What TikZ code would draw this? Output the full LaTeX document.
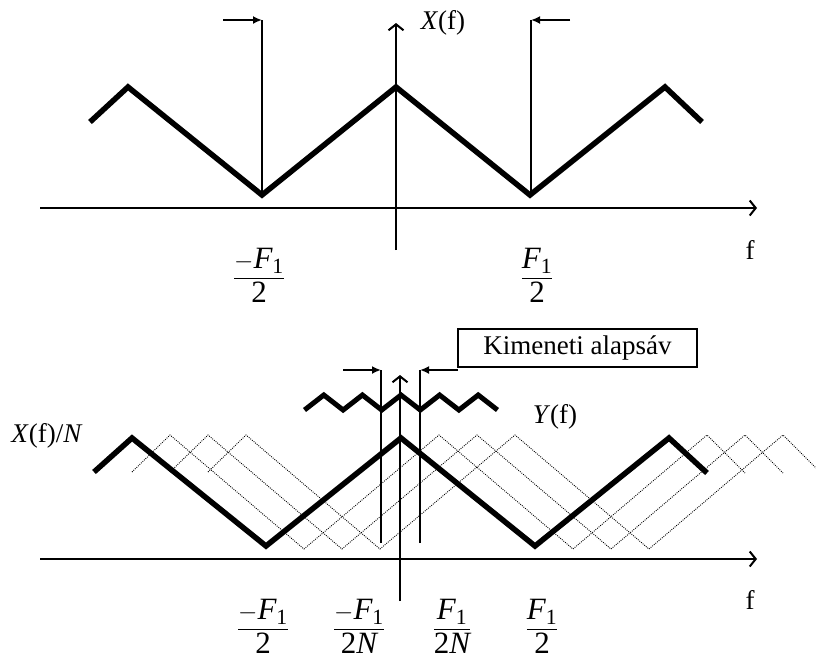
\documentclass[tikz,border=0pt]{standalone}
\usepackage{amsmath}
\usepackage{fontspec}
\setmainfont{Liberation Serif}
\usetikzlibrary{arrows.meta}

\newcommand{\Fone}{\textit{F}_{\textrm{1}}}

\begin{document}
\begin{tikzpicture}[x=1pt, y=-1pt]
    % Define styles
    \tikzstyle{axis} = [line width=2pt, -{Straight Barb[length=6pt, width=15pt]}]
    \tikzstyle{spectrum} = [line width=5.5pt, line join=miter]
    \tikzstyle{alias} = [line width=0.9pt, black, dash pattern=on 0.9pt off 1.2pt]
    \tikzstyle{edge} = [line width=2pt]
    \tikzstyle{pointer} = [line width=2pt, -{Latex[length=9pt, width=8pt]}]
    \tikzstyle{lbl} = [inner sep=0pt, font=\fontsize{27}{32}\selectfont]
    \tikzstyle{fraclbl} = [inner sep=0pt, anchor=base, font=\fontsize{31}{37}\selectfont]

    \useasboundingbox (0,0) rectangle (816,662);

    % Top axes
    \coordinate (tx0) at (40,208);
    \coordinate (tx1) at (757,208);
    \coordinate (ty0) at (396,250);
    \coordinate (ty1) at (396,23);
    \draw[axis] (tx0) -- (tx1);
    \draw[axis] (ty0) -- (ty1);

    % Top spectrum
    \draw[spectrum] (90,122) -- (128,87) -- (262,195) -- (396,87) -- (530,195) -- (665,87) -- (702,122);

    % Top band edges
    \coordinate (tlb) at (262,196);
    \coordinate (tlt) at (262,20);
    \coordinate (tlp) at (223,20);
    \coordinate (trb) at (531,196);
    \coordinate (trt) at (531,20);
    \coordinate (trp) at (570,20);
    \draw[edge] (tlb) -- (tlt);
    \draw[pointer] (tlp) -- (tlt);
    \draw[edge] (trb) -- (trt);
    \draw[pointer] (trp) -- (trt);

    % Top labels
    \node[lbl] (xf) at (443,23) {\textit{X}(f)};
    \node[lbl] (tf) at (750,250) {f};
    \node[fraclbl] (tmF) at (259,285) {$\dfrac{-\Fone}{\textrm{2}}$};
    \node[fraclbl] (tpF) at (537,285) {$\dfrac{\Fone}{\textrm{2}}$};

    % Bottom axes
    \coordinate (bx0) at (40,559);
    \coordinate (bx1) at (757,559);
    \coordinate (by0) at (400,601);
    \coordinate (by1) at (400,375);
    \draw[axis] (bx0) -- (bx1);
    \draw[axis] (by0) -- (by1);

    % Shifted copies
    \foreach \s in {38,76,114}
        \draw[alias, xshift=\s] (94,472) -- (132,435) -- (266,549) -- (401,435) -- (535,549) -- (669,435) -- (707,473);

    % Bottom spectrum
    \draw[spectrum] (94,472) -- (132,438) -- (266,546) -- (401,438) -- (535,546) -- (669,438) -- (707,473);

    % Output spectrum
    \draw[line width=5pt, line join=miter] (304.5,410) -- (323.8,395) -- (343.1,410) -- (362.4,395) -- (381.7,410) -- (401,395) -- (420.3,410) -- (439.6,395) -- (458.9,410) -- (478.2,395) -- (497.5,410);

    % Bottom band edges
    \coordinate (blb) at (381,543);
    \coordinate (blt) at (381,370);
    \coordinate (blp) at (343,370);
    \coordinate (brb) at (420,543);
    \coordinate (brt) at (420,370);
    \coordinate (brp) at (458,370);
    \draw[edge] (blb) -- (blt);
    \draw[pointer] (blp) -- (blt);
    \draw[edge] (brb) -- (brt);
    \draw[pointer] (brp) -- (brt);

    % Bottom labels
    \node[lbl, draw, line width=1.3pt, minimum width=239pt, minimum height=38pt] (outbox) at (577.5,348) {Kimeneti alapsáv};
    \node[lbl] (yf) at (555,417) {\textit{Y}(f)};
    \node[lbl] (xfn) at (47,436) {\textit{X}(f)/\textit{N}};
    \node[lbl] (bf) at (750,600) {f};
    \node[fraclbl] (bmF) at (263,636) {$\dfrac{-\Fone}{\textrm{2}}$};
    \node[fraclbl] (bmFN) at (359,636) {$\dfrac{-\Fone}{\textrm{2}\textit{N}}$};
    \node[fraclbl] (bpFN) at (452,636) {$\dfrac{\Fone}{\textrm{2}\textit{N}}$};
    \node[fraclbl] (bpF) at (542,636) {$\dfrac{\Fone}{\textrm{2}}$};

\end{tikzpicture}
\end{document}
